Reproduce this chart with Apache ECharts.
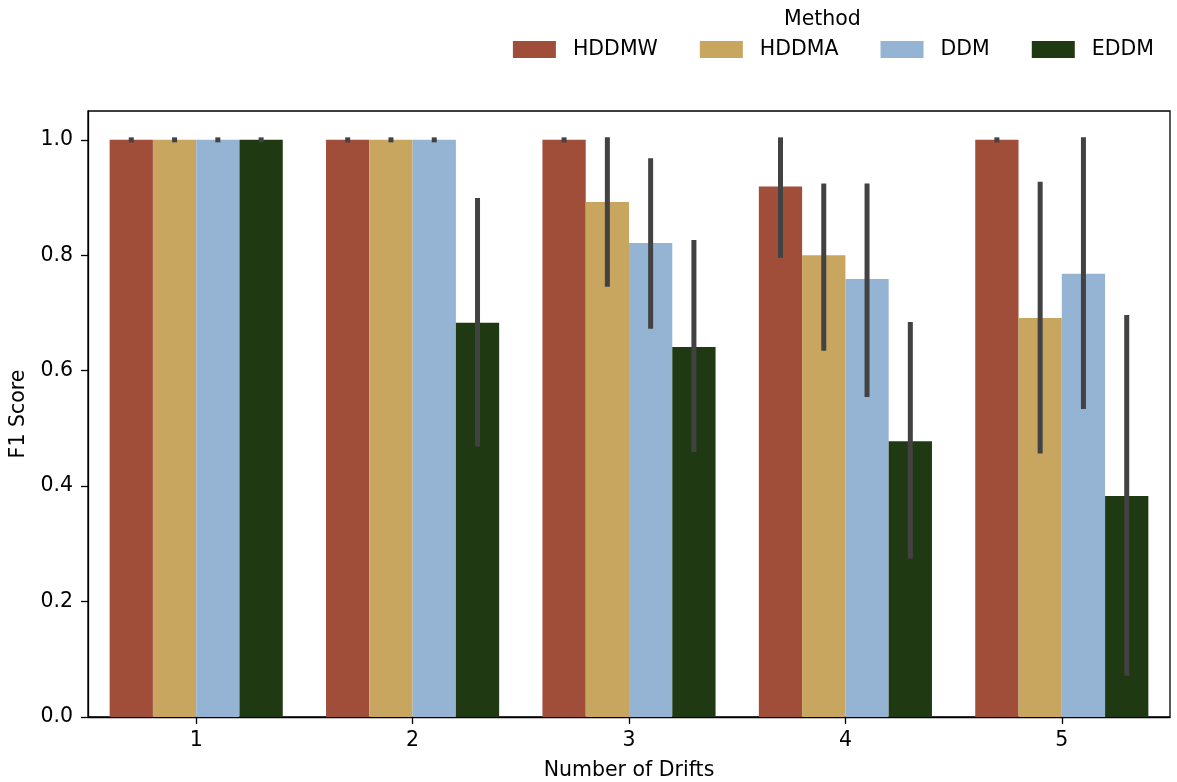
<!DOCTYPE html>
<html>
<head>
<meta charset="utf-8">
<style>html,body{margin:0;padding:0;background:#fff}#chart{width:1177px;height:782px}</style>
<script src="https://cdn.jsdelivr.net/npm/echarts@6/dist/echarts.min.js"></script>
</head>
<body>
<div id="chart"></div>
<script>
var categories = ['1', '2', '3', '4', '5'];
var methods = ['HDDMW', 'HDDMA', 'DDM', 'EDDM'];
var yTicks = [0, 0.2, 0.4, 0.6, 0.8, 1.0];

var hddmwMean = [1.0, 1.0, 1.0, 0.919, 1.0];
var hddmwLow  = [1.0, 1.0, 1.0, 0.800, 1.0];
var hddmwHigh = [1.0, 1.0, 1.0, 1.0, 1.0];

var hddmaMean = [1.0, 1.0, 0.8925, 0.800, 0.6915];
var hddmaLow  = [1.0, 1.0, 0.750, 0.639, 0.461];
var hddmaHigh = [1.0, 1.0, 1.0, 0.920, 0.923];

var ddmMean = [1.0, 1.0, 0.8215, 0.759, 0.768];
var ddmLow  = [1.0, 1.0, 0.677, 0.559, 0.538];
var ddmHigh = [1.0, 1.0, 0.964, 0.920, 1.0];

var eddmMean = [1.0, 0.683, 0.641, 0.478, 0.383];
var eddmLow  = [1.0, 0.473, 0.4636, 0.279, 0.076];
var eddmHigh = [1.0, 0.895, 0.822, 0.680, 0.692];

var colors = ['#a04d3a', '#c8a65f', '#95b4d4', '#1f3a13'];
var means = [hddmwMean, hddmaMean, ddmMean, eddmMean];
var lows = [hddmwLow, hddmaLow, ddmLow, eddmLow];
var highs = [hddmwHigh, hddmaHigh, ddmHigh, eddmHigh];

var FONT = 'DejaVu Sans';
var FS = 20.5;
var chart = echarts.init(document.getElementById('chart'), null, {renderer: 'canvas'});

var series = [];
methods.forEach(function (m, i) {
  series.push({
    name: m, type: 'bar', data: means[i],
    barGap: '0%', barCategoryGap: '20%',
    itemStyle: {color: colors[i]},
    emphasis: {disabled: true},
    z: 2
  });
});
methods.forEach(function (m, i) {
  series.push({
    name: m + '_ci', type: 'custom',
    data: categories.map(function (c, k) { return [k, lows[i][k], highs[i][k]]; }),
    encode: {x: 0, y: [1, 2]},
    z: 5,
    renderItem: function (params, api) {
      var k = api.value(0);
      var catW = api.size([1, 0])[0];
      var bw = catW * 0.8 / 4;
      var cx = api.coord([k, 0])[0] + (i - 1.5) * bw;
      var yLo = api.coord([k, api.value(1)])[1];
      var yHi = api.coord([k, api.value(2)])[1];
      var lw = 5;
      return {
        type: 'rect',
        shape: {x: cx - lw / 2, y: yHi - lw / 2, width: lw, height: (yLo - yHi) + lw},
        style: {fill: '#424242'}
      };
    }
  });
});

chart.setOption({
  animation: false,
  backgroundColor: '#fff',
  textStyle: {fontFamily: FONT},
  graphic: [{
    type: 'text', left: 834 - 50, top: 9,
    style: {text: 'Method', font: FS + 'px "DejaVu Sans"', fill: '#000', width: 100, align: 'center'}
  }],
  legend: {
    data: methods,
    right: 23, top: 39, padding: 0,
    itemWidth: 43, itemHeight: 17, itemGap: 42,
    icon: 'rect',
    textStyle: {fontFamily: FONT, fontSize: FS, color: '#000', padding: [0, 0, 0, 12]}
  },
  grid: {
    left: 88, right: 7, top: 111, bottom: 65,
    outerBoundsMode: 'none', containLabel: false,
    show: true, borderColor: '#000', borderWidth: 1.3, backgroundColor: 'transparent'
  },
  xAxis: {
    type: 'category', data: categories,
    name: 'Number of Drifts', nameLocation: 'middle', nameGap: 43,
    nameTextStyle: {fontFamily: FONT, fontSize: FS, color: '#000'},
    axisLine: {show: true, lineStyle: {color: '#000', width: 1.3}},
    axisTick: {show: true, alignWithLabel: true, length: 7, lineStyle: {color: '#000', width: 1.3}},
    axisLabel: {fontFamily: FONT, fontSize: FS, color: '#000', margin: 13},
    splitLine: {show: false}
  },
  yAxis: {
    type: 'value', min: 0, max: 1.05,
    name: 'F1 Score', nameLocation: 'middle', nameGap: 54,
    nameTextStyle: {fontFamily: FONT, fontSize: FS, color: '#000'},
    axisLine: {show: true, lineStyle: {color: '#000', width: 1.3}},
    axisTick: {show: true, length: 7, customValues: yTicks, lineStyle: {color: '#000', width: 1.3}},
    axisLabel: {fontFamily: FONT, fontSize: FS, color: '#000', margin: 15, customValues: yTicks,
      formatter: function (v) { return v.toFixed(1); }},
    splitLine: {show: false}
  },
  series: series
});
</script>
</body>
</html>
